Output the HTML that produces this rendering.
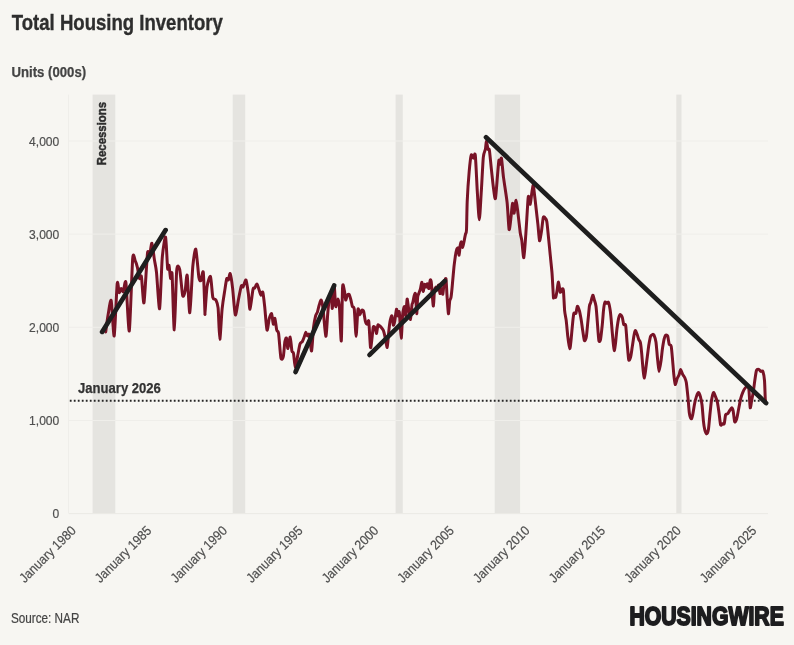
<!DOCTYPE html>
<html lang="en"><head><meta charset="utf-8"><title>Total Housing Inventory</title>
<style>
html,body{margin:0;padding:0;background:#f7f6f2;}
body{width:794px;height:645px;overflow:hidden;font-family:"Liberation Sans", sans-serif;}
svg{display:block;}
text{font-family:"Liberation Sans", sans-serif;}
</style></head><body>
<svg width="794" height="645" viewBox="0 0 794 645">
<rect width="794" height="645" fill="#f7f6f2"/>
<text x="11.8" y="30.4" font-size="21.5" font-weight="700" fill="#2e2e2e" stroke="#2e2e2e" stroke-width="0.35" textLength="211" lengthAdjust="spacingAndGlyphs">Total Housing Inventory</text>
<text x="11.5" y="77.3" font-size="14" font-weight="700" fill="#444" stroke="#444" stroke-width="0.25" textLength="74.6" lengthAdjust="spacingAndGlyphs">Units (000s)</text>
<rect x="92.6" y="94.6" width="22.7" height="419.0" fill="#e5e4e0"/>
<rect x="232.7" y="94.6" width="12.5" height="419.0" fill="#e5e4e0"/>
<rect x="395.6" y="94.6" width="7.2" height="419.0" fill="#e5e4e0"/>
<rect x="494.7" y="94.6" width="25.4" height="419.0" fill="#e5e4e0"/>
<rect x="676.3" y="94.6" width="5.2" height="419.0" fill="#e5e4e0"/>
<line x1="69" x2="768" y1="513.6" y2="513.6" stroke="#eae9e5" stroke-width="1"/>
<line x1="69" x2="768" y1="420.5" y2="420.5" stroke="#efeeea" stroke-width="1"/>
<line x1="69" x2="768" y1="327.3" y2="327.3" stroke="#efeeea" stroke-width="1"/>
<line x1="69" x2="768" y1="234.1" y2="234.1" stroke="#efeeea" stroke-width="1"/>
<line x1="69" x2="768" y1="141.0" y2="141.0" stroke="#efeeea" stroke-width="1"/>
<line x1="68.5" x2="68.5" y1="94.6" y2="513.6" stroke="#efeeea" stroke-width="1"/>
<text x="59.3" y="518.2" font-size="13.4" fill="#4f4f4f" stroke="#4f4f4f" stroke-width="0.2" text-anchor="end" textLength="6.7" lengthAdjust="spacingAndGlyphs">0</text>
<text x="59.3" y="425.1" font-size="13.4" fill="#4f4f4f" stroke="#4f4f4f" stroke-width="0.2" text-anchor="end" textLength="30.2" lengthAdjust="spacingAndGlyphs">1,000</text>
<text x="59.3" y="331.9" font-size="13.4" fill="#4f4f4f" stroke="#4f4f4f" stroke-width="0.2" text-anchor="end" textLength="30.2" lengthAdjust="spacingAndGlyphs">2,000</text>
<text x="59.3" y="238.7" font-size="13.4" fill="#4f4f4f" stroke="#4f4f4f" stroke-width="0.2" text-anchor="end" textLength="30.2" lengthAdjust="spacingAndGlyphs">3,000</text>
<text x="59.3" y="145.6" font-size="13.4" fill="#4f4f4f" stroke="#4f4f4f" stroke-width="0.2" text-anchor="end" textLength="30.2" lengthAdjust="spacingAndGlyphs">4,000</text>
<text transform="translate(76.7,531.5) rotate(-45)" font-size="13.4" fill="#4f4f4f" stroke="#4f4f4f" stroke-width="0.2" text-anchor="end" textLength="73.5" lengthAdjust="spacingAndGlyphs">January 1980</text>
<text transform="translate(152.3,531.5) rotate(-45)" font-size="13.4" fill="#4f4f4f" stroke="#4f4f4f" stroke-width="0.2" text-anchor="end" textLength="73.5" lengthAdjust="spacingAndGlyphs">January 1985</text>
<text transform="translate(227.9,531.5) rotate(-45)" font-size="13.4" fill="#4f4f4f" stroke="#4f4f4f" stroke-width="0.2" text-anchor="end" textLength="73.5" lengthAdjust="spacingAndGlyphs">January 1990</text>
<text transform="translate(303.6,531.5) rotate(-45)" font-size="13.4" fill="#4f4f4f" stroke="#4f4f4f" stroke-width="0.2" text-anchor="end" textLength="73.5" lengthAdjust="spacingAndGlyphs">January 1995</text>
<text transform="translate(379.2,531.5) rotate(-45)" font-size="13.4" fill="#4f4f4f" stroke="#4f4f4f" stroke-width="0.2" text-anchor="end" textLength="73.5" lengthAdjust="spacingAndGlyphs">January 2000</text>
<text transform="translate(454.8,531.5) rotate(-45)" font-size="13.4" fill="#4f4f4f" stroke="#4f4f4f" stroke-width="0.2" text-anchor="end" textLength="73.5" lengthAdjust="spacingAndGlyphs">January 2005</text>
<text transform="translate(530.5,531.5) rotate(-45)" font-size="13.4" fill="#4f4f4f" stroke="#4f4f4f" stroke-width="0.2" text-anchor="end" textLength="73.5" lengthAdjust="spacingAndGlyphs">January 2010</text>
<text transform="translate(606.1,531.5) rotate(-45)" font-size="13.4" fill="#4f4f4f" stroke="#4f4f4f" stroke-width="0.2" text-anchor="end" textLength="73.5" lengthAdjust="spacingAndGlyphs">January 2015</text>
<text transform="translate(681.7,531.5) rotate(-45)" font-size="13.4" fill="#4f4f4f" stroke="#4f4f4f" stroke-width="0.2" text-anchor="end" textLength="73.5" lengthAdjust="spacingAndGlyphs">January 2020</text>
<text transform="translate(757.3,531.5) rotate(-45)" font-size="13.4" fill="#4f4f4f" stroke="#4f4f4f" stroke-width="0.2" text-anchor="end" textLength="73.5" lengthAdjust="spacingAndGlyphs">January 2025</text>
<text transform="translate(105.9,165.2) rotate(-90)" font-size="13" font-weight="700" fill="#2d2d2d" stroke="#2d2d2d" stroke-width="0.45" textLength="63.2" lengthAdjust="spacingAndGlyphs">Recessions</text>
<line x1="69.8" x2="767" y1="400.7" y2="400.7" stroke="#262626" stroke-width="1.9" stroke-dasharray="1.8 2.2"/>
<path d="M105.7,331.9 C106.0,329.8 107.4,318.6 108.1,314.8 C108.8,311.0 110.5,298.1 111.2,300.6 C111.9,303.1 113.5,338.0 114.2,335.9 C114.9,333.8 116.6,288.7 117.2,283.5 C117.8,278.3 118.7,292.0 119.2,292.6 C119.7,293.2 120.7,288.6 121.2,288.5 C121.7,288.4 122.7,292.3 123.3,291.6 C123.9,290.9 125.2,277.8 125.9,282.5 C126.6,287.2 128.5,333.8 129.3,330.9 C130.1,328.0 132.0,266.7 132.7,258.3 C133.4,249.9 134.8,260.2 135.4,261.3 C136.0,262.4 136.9,265.3 137.4,267.4 C137.9,269.5 138.9,277.4 139.4,278.5 C139.9,279.6 140.8,273.6 141.4,276.5 C142.0,279.4 143.3,305.5 144.0,302.7 C144.7,299.9 146.8,258.9 147.5,253.3 C148.2,247.7 149.0,257.5 149.5,256.3 C150.0,255.1 151.3,242.7 151.9,243.2 C152.5,243.7 153.9,256.8 154.5,260.3 C155.1,263.8 155.9,266.6 156.5,272.4 C157.1,278.2 158.9,310.4 159.6,308.7 C160.3,307.0 161.5,266.9 162.2,258.3 C162.9,249.7 165.0,235.9 165.6,237.1 C166.2,238.3 167.2,265.0 167.6,268.4 C168.0,271.8 168.6,264.2 169.0,265.4 C169.4,266.6 170.2,277.4 170.6,278.5 C171.0,279.6 171.7,268.2 172.1,274.4 C172.5,280.6 173.7,330.4 174.3,329.9 C174.9,329.4 176.1,277.7 176.7,270.4 C177.3,263.1 179.0,266.4 179.7,269.4 C180.4,272.4 182.0,293.1 182.7,295.6 C183.4,298.1 184.7,293.0 185.2,290.6 C185.7,288.2 186.6,272.7 187.2,275.4 C187.8,278.1 189.1,313.8 189.8,312.7 C190.5,311.6 192.1,274.0 192.8,266.4 C193.5,258.8 195.1,247.9 195.8,249.2 C196.5,250.5 198.3,273.7 198.9,277.5 C199.5,281.3 200.4,281.1 200.9,280.5 C201.4,279.9 202.8,268.7 203.3,272.4 C203.8,276.1 204.7,307.0 204.9,311.7 C205.1,316.4 204.8,314.4 205.1,311.4 C205.4,308.4 206.4,291.2 207.0,287.0 C207.6,282.8 209.8,275.3 210.5,276.5 C211.2,277.7 212.2,294.6 212.8,297.4 C213.4,300.2 215.2,298.5 215.8,299.8 C216.4,301.1 217.6,303.2 218.1,307.9 C218.6,312.6 219.3,339.2 219.8,339.3 C220.3,339.4 221.5,314.7 222.1,309.1 C222.7,303.5 223.8,296.4 224.4,292.8 C225.0,289.2 226.2,280.3 226.7,278.8 C227.2,277.3 228.0,280.6 228.4,280.0 C228.8,279.4 229.7,272.7 230.2,273.7 C230.7,274.7 232.0,283.2 232.6,288.1 C233.2,293.0 234.6,313.5 235.3,314.9 C236.0,316.3 237.7,303.3 238.4,299.8 C239.1,296.3 240.8,287.3 241.4,285.8 C242.0,284.3 242.4,287.7 243.0,287.0 C243.6,286.3 245.4,279.2 246.0,280.0 C246.6,280.8 247.9,290.5 248.4,294.0 C248.9,297.5 249.4,309.7 250.0,309.1 C250.6,308.5 252.4,291.8 253.0,289.3 C253.6,286.8 254.2,288.7 254.7,288.1 C255.2,287.5 256.4,283.7 257.0,284.0 C257.6,284.3 258.8,289.2 259.3,290.5 C259.8,291.8 260.5,294.9 260.9,295.1 C261.3,295.3 262.3,290.9 262.8,292.3 C263.3,293.7 264.2,302.2 264.7,306.7 C265.2,311.2 266.4,328.6 267.0,330.0 C267.6,331.4 268.7,320.4 269.3,318.4 C269.9,316.4 271.1,313.0 271.6,313.7 C272.1,314.4 272.9,323.6 273.3,324.2 C273.7,324.8 274.5,317.7 274.9,318.4 C275.3,319.1 276.3,328.2 276.7,330.0 C277.1,331.8 278.1,330.2 278.6,333.5 C279.1,336.8 280.3,355.1 280.9,357.9 C281.5,360.7 282.8,358.7 283.3,356.7 C283.8,354.7 284.5,343.8 284.9,341.6 C285.3,339.4 286.1,337.3 286.5,338.1 C286.9,338.9 287.5,348.7 287.9,348.6 C288.3,348.5 289.7,336.7 290.2,337.0 C290.7,337.3 291.5,348.9 291.9,350.9 C292.3,352.9 293.1,351.3 293.5,353.3 C293.9,355.3 294.8,366.9 295.3,367.2 C295.8,367.5 297.1,358.4 297.7,355.6 C298.3,352.8 299.4,345.7 300.0,344.0 C300.6,342.3 301.8,342.4 302.3,341.6 C302.8,340.8 303.8,338.1 304.2,337.0 C304.6,335.9 305.4,332.4 305.8,332.3 C306.2,332.2 307.0,335.5 307.4,335.8 C307.8,336.1 308.8,332.9 309.3,334.7 C309.8,336.5 311.1,351.7 311.6,350.9 C312.1,350.1 313.0,331.9 313.5,327.7 C314.0,323.5 315.1,317.7 315.6,315.8 C316.1,313.9 317.0,313.4 317.4,312.1 C317.8,310.8 318.8,306.2 319.3,304.7 C319.8,303.2 320.8,299.6 321.2,300.0 C321.6,300.4 322.4,304.0 323.0,308.4 C323.6,312.8 325.2,335.6 325.8,336.3 C326.4,337.0 327.3,318.7 327.7,314.0 C328.1,309.3 329.1,299.6 329.5,297.2 C329.9,294.8 331.1,293.1 331.4,294.4 C331.7,295.7 332.0,309.4 332.3,308.4 C332.6,307.4 333.8,286.2 334.2,286.0 C334.6,285.8 335.3,304.9 335.7,306.5 C336.1,308.1 337.5,299.1 337.9,299.1 C338.3,299.1 339.0,301.5 339.4,306.5 C339.8,311.5 340.9,343.2 341.3,340.9 C341.7,338.6 342.2,293.0 342.6,287.0 C343.0,281.0 344.0,289.1 344.4,290.7 C344.8,292.3 345.4,299.4 345.7,300.0 C346.0,300.6 346.8,296.0 347.2,295.3 C347.6,294.6 348.7,293.8 349.1,294.4 C349.5,295.0 350.5,298.5 350.9,300.0 C351.3,301.5 352.0,305.4 352.4,306.5 C352.8,307.6 353.9,305.7 354.3,309.3 C354.7,312.9 355.7,336.3 356.1,336.3 C356.5,336.3 357.5,311.9 358.0,309.3 C358.5,306.7 359.5,314.8 359.9,314.9 C360.3,315.0 361.3,310.6 361.7,310.2 C362.1,309.8 363.2,309.9 363.6,311.2 C364.0,312.5 365.0,319.8 365.4,321.4 C365.8,323.0 366.9,324.2 367.3,324.2 C367.7,324.2 368.4,318.6 368.8,321.4 C369.2,324.2 370.1,345.4 370.5,347.4 C370.9,349.4 371.7,340.5 372.0,338.1 C372.3,335.7 372.9,328.2 373.3,327.0 C373.7,325.8 374.7,327.1 375.1,327.9 C375.5,328.7 376.3,333.8 376.6,333.5 C376.9,333.2 377.5,326.0 377.9,325.1 C378.3,324.2 379.4,325.7 379.8,326.0 C380.2,326.3 381.2,327.3 381.6,327.9 C382.0,328.5 383.1,329.5 383.5,330.7 C383.9,331.9 384.9,336.1 385.3,338.1 C385.7,340.1 386.8,347.8 387.2,347.4 C387.6,347.0 388.2,337.5 388.5,334.4 C388.8,331.3 389.6,323.6 390.0,321.4 C390.4,319.2 391.5,315.4 391.9,315.8 C392.3,316.2 393.0,324.4 393.3,325.1 C393.6,325.8 394.3,323.3 394.7,321.4 C395.1,319.5 396.1,310.0 396.5,309.3 C396.9,308.6 397.5,315.5 397.8,315.8 C398.1,316.1 398.9,309.4 399.3,312.1 C399.7,314.8 400.8,337.9 401.2,338.1 C401.6,338.3 402.3,317.8 402.7,314.0 C403.1,310.2 404.1,306.3 404.5,306.5 C404.9,306.7 405.5,316.7 405.8,315.8 C406.1,314.9 406.8,300.0 407.1,299.1 C407.4,298.2 408.2,306.0 408.6,308.4 C409.0,310.8 410.1,319.9 410.5,319.5 C410.9,319.1 411.7,306.7 412.0,304.7 C412.3,302.7 412.5,303.6 412.8,302.5 C413.1,301.4 413.9,296.6 414.2,295.6 C414.5,294.6 415.3,292.0 415.6,294.2 C415.9,296.4 416.4,313.4 416.7,313.7 C417.0,314.0 417.4,299.4 417.7,296.9 C418.0,294.4 418.8,293.8 419.1,292.8 C419.4,291.8 420.2,289.9 420.5,288.6 C420.8,287.3 421.6,282.0 421.9,282.3 C422.2,282.6 422.9,291.1 423.2,291.4 C423.5,291.7 424.3,284.9 424.6,284.4 C424.9,283.9 425.7,287.3 426.0,287.2 C426.3,287.1 427.1,283.5 427.4,283.7 C427.7,283.9 428.5,289.0 428.8,288.6 C429.1,288.2 429.9,281.0 430.2,280.2 C430.5,279.4 430.9,279.8 431.2,281.6 C431.5,283.4 432.0,292.7 432.3,295.6 C432.6,298.5 433.1,306.5 433.4,306.0 C433.7,305.5 434.1,293.7 434.4,291.4 C434.7,289.1 435.5,287.4 435.8,287.2 C436.1,287.0 436.9,290.3 437.2,290.0 C437.5,289.7 438.3,284.7 438.6,285.1 C438.9,285.5 439.7,293.1 440.0,293.5 C440.3,293.9 441.1,288.5 441.4,288.6 C441.7,288.7 442.5,294.9 442.8,294.2 C443.1,293.5 443.8,284.8 444.2,283.0 C444.6,281.2 445.7,277.3 446.0,278.8 C446.3,280.3 446.7,291.4 447.0,295.6 C447.3,299.8 448.1,313.0 448.4,313.7 C448.7,314.4 449.4,303.1 449.7,301.1 C450.0,299.1 450.8,299.1 451.1,296.9 C451.4,294.7 452.2,286.5 452.5,283.0 C452.8,279.5 453.6,270.9 453.9,267.7 C454.2,264.5 455.0,258.7 455.3,256.5 C455.6,254.3 456.4,250.5 456.7,249.5 C457.0,248.5 457.8,247.4 458.1,248.1 C458.4,248.8 458.8,255.4 459.1,255.1 C459.4,254.8 459.9,246.9 460.2,245.3 C460.5,243.7 461.0,241.6 461.3,241.9 C461.6,242.2 462.4,247.5 462.7,247.4 C463.0,247.3 463.8,242.8 464.1,241.2 C464.4,239.6 465.2,235.5 465.5,234.2 C465.8,232.9 466.3,233.9 466.5,230.0 C466.7,226.1 466.9,208.6 467.2,201.6 C467.5,194.6 468.7,177.0 469.2,171.4 C469.7,165.8 470.7,156.8 471.2,155.2 C471.7,153.6 472.8,158.3 473.3,158.3 C473.8,158.3 474.8,151.2 475.3,155.2 C475.8,159.2 476.8,183.7 477.3,191.5 C477.8,199.3 478.8,219.8 479.3,219.8 C479.8,219.8 480.8,199.0 481.3,191.5 C481.8,184.0 482.8,162.4 483.3,157.3 C483.8,152.2 485.0,151.1 485.4,149.2 C485.8,147.3 486.1,141.1 486.4,141.1 C486.7,141.1 487.6,148.1 488.0,149.2 C488.4,150.3 489.0,147.8 489.4,150.2 C489.8,152.6 490.9,164.9 491.4,169.4 C491.9,173.9 492.9,184.0 493.4,187.5 C493.9,191.0 494.9,200.1 495.4,198.6 C495.9,197.1 497.1,180.0 497.5,175.4 C497.9,170.8 498.6,161.6 498.9,160.3 C499.2,159.0 499.8,164.5 500.1,164.3 C500.4,164.1 501.1,156.7 501.5,158.3 C501.9,159.9 502.8,172.1 503.5,177.4 C504.2,182.7 506.4,196.0 507.1,202.3 C507.8,208.6 508.6,227.8 509.1,229.5 C509.6,231.2 510.7,219.5 511.1,216.4 C511.5,213.3 512.1,203.7 512.5,203.3 C512.9,202.9 513.7,213.7 514.1,213.3 C514.5,212.9 515.6,200.1 516.1,200.2 C516.6,200.3 517.6,210.5 518.1,214.4 C518.6,218.3 519.8,229.4 520.2,232.5 C520.6,235.6 521.4,237.6 521.8,240.6 C522.2,243.6 523.3,258.4 523.8,257.7 C524.3,257.0 525.3,241.1 525.8,234.5 C526.3,227.9 527.5,206.9 527.8,202.3 C528.1,197.7 528.3,196.0 528.6,196.2 C528.9,196.4 529.8,204.8 530.2,204.3 C530.6,203.8 531.5,194.5 531.9,192.2 C532.3,189.9 533.0,184.6 533.3,185.1 C533.6,185.6 534.3,193.2 534.7,196.2 C535.1,199.2 535.9,206.9 536.3,210.3 C536.7,213.7 537.5,220.8 537.9,224.4 C538.3,228.0 539.1,239.6 539.5,240.6 C539.9,241.6 540.8,235.3 541.3,232.5 C541.8,229.7 542.8,219.1 543.3,217.4 C543.8,215.7 545.0,217.9 545.4,218.4 C545.8,218.9 546.4,219.2 546.8,221.4 C547.2,223.6 548.0,232.3 548.4,236.5 C548.8,240.7 550.0,252.3 550.4,256.7 C550.8,261.1 551.6,268.0 552.0,272.8 C552.4,277.6 553.2,294.2 553.4,297.0 C553.6,299.8 553.4,296.2 553.7,296.2 C554.0,296.2 555.3,297.9 555.7,297.2 C556.1,296.5 556.8,292.0 557.1,290.2 C557.4,288.4 558.1,281.9 558.5,282.1 C558.9,282.3 559.8,291.3 560.2,292.2 C560.6,293.1 561.4,289.4 561.8,289.2 C562.2,289.0 563.1,287.7 563.4,290.2 C563.7,292.7 564.3,306.7 564.6,310.3 C564.9,313.9 565.8,317.3 566.2,320.4 C566.6,323.5 567.4,333.1 567.8,336.5 C568.2,339.9 569.4,348.4 569.8,348.6 C570.2,348.8 570.9,341.6 571.2,338.5 C571.5,335.4 572.4,325.4 572.7,322.4 C573.0,319.4 573.5,314.4 573.9,313.3 C574.3,312.2 575.5,314.1 575.9,313.3 C576.3,312.5 576.9,306.7 577.3,306.3 C577.7,305.9 578.8,308.6 579.3,310.3 C579.8,312.0 580.9,318.0 581.3,320.4 C581.7,322.8 582.3,328.1 582.7,330.5 C583.1,332.9 584.0,339.9 584.4,340.6 C584.8,341.3 586.0,338.9 586.4,336.5 C586.8,334.1 587.6,324.0 588.0,320.4 C588.4,316.8 589.1,308.5 589.4,306.3 C589.7,304.1 590.4,303.6 590.8,302.3 C591.2,301.0 592.4,295.5 592.8,295.2 C593.2,294.9 594.0,298.9 594.4,300.2 C594.8,301.5 595.6,303.4 596.0,306.3 C596.4,309.2 597.2,320.3 597.5,324.4 C597.8,328.5 598.5,338.8 598.9,340.6 C599.3,342.4 600.1,341.3 600.5,339.6 C600.9,337.9 601.7,330.0 602.1,326.5 C602.5,323.0 603.2,313.2 603.5,310.3 C603.8,307.4 604.5,303.1 604.9,302.3 C605.3,301.5 606.5,303.3 606.9,303.3 C607.3,303.3 608.1,301.5 608.5,302.3 C608.9,303.1 609.8,307.6 610.2,310.3 C610.6,313.0 611.3,320.8 611.6,324.4 C611.9,328.0 612.7,337.5 613.0,340.6 C613.3,343.7 613.9,350.4 614.2,350.6 C614.5,350.8 615.3,345.3 615.6,342.6 C615.9,339.9 616.6,331.4 617.0,328.5 C617.4,325.6 618.2,320.1 618.6,318.4 C619.0,316.7 619.8,314.5 620.2,314.4 C620.6,314.3 621.9,316.2 622.3,317.4 C622.7,318.6 623.3,323.4 623.7,324.4 C624.1,325.4 625.3,323.2 625.7,325.4 C626.1,327.6 626.7,338.5 627.1,342.6 C627.5,346.7 628.3,358.0 628.7,359.7 C629.1,361.4 630.3,358.3 630.7,356.7 C631.1,355.1 631.9,349.0 632.3,346.6 C632.7,344.2 633.5,338.4 633.8,336.5 C634.1,334.6 634.8,330.7 635.2,330.5 C635.6,330.3 636.8,333.4 637.2,334.5 C637.6,335.6 638.4,338.6 638.8,339.6 C639.2,340.6 640.0,340.8 640.4,342.6 C640.8,344.4 641.5,351.3 641.8,354.7 C642.1,358.1 642.9,368.0 643.2,370.8 C643.5,373.6 644.1,378.1 644.4,377.9 C644.7,377.7 645.5,371.3 645.8,368.8 C646.1,366.3 646.9,359.6 647.3,356.7 C647.7,353.8 648.5,347.0 648.9,344.6 C649.3,342.2 650.1,337.7 650.5,336.5 C650.9,335.3 652.1,334.7 652.5,334.5 C652.9,334.3 653.6,334.2 654.0,335.1 C654.4,336.0 655.6,339.2 656.0,342.2 C656.4,345.2 657.3,356.8 657.7,360.3 C658.1,363.8 658.7,371.4 659.1,371.4 C659.5,371.4 660.7,363.1 661.1,360.3 C661.5,357.5 662.1,350.7 662.5,348.2 C662.9,345.7 663.7,340.8 664.1,339.2 C664.5,337.6 665.3,335.5 665.7,335.1 C666.1,334.7 667.3,335.0 667.7,336.1 C668.1,337.2 668.8,343.0 669.2,344.2 C669.6,345.4 670.8,344.3 671.2,346.2 C671.6,348.1 672.3,356.9 672.6,360.3 C672.9,363.7 673.5,371.5 673.8,374.4 C674.1,377.3 674.8,384.0 675.2,384.5 C675.6,385.0 676.7,379.7 677.2,378.5 C677.7,377.3 678.8,375.5 679.2,374.4 C679.6,373.3 680.2,369.4 680.6,369.4 C681.0,369.4 682.2,373.4 682.7,374.4 C683.2,375.4 684.3,376.5 684.7,377.5 C685.1,378.5 685.9,380.2 686.3,382.5 C686.7,384.8 687.5,393.0 687.9,396.6 C688.3,400.2 688.9,410.0 689.3,412.7 C689.7,415.4 690.9,418.5 691.3,418.8 C691.7,419.1 692.3,416.5 692.7,414.8 C693.1,413.1 694.0,406.9 694.4,404.7 C694.8,402.5 695.9,398.1 696.4,396.6 C696.9,395.1 697.9,392.6 698.4,392.6 C698.9,392.6 700.0,395.1 700.4,396.6 C700.8,398.1 701.6,401.8 702.0,404.7 C702.4,407.6 703.1,417.8 703.4,420.8 C703.7,423.8 704.4,428.3 704.8,429.9 C705.2,431.5 706.1,434.0 706.5,433.9 C706.9,433.8 708.1,431.4 708.5,428.9 C708.9,426.4 709.7,416.1 710.1,412.7 C710.5,409.3 711.1,403.0 711.5,400.6 C711.9,398.2 713.0,393.1 713.5,392.6 C714.0,392.1 715.0,395.4 715.5,396.6 C716.0,397.8 717.1,400.8 717.5,402.7 C717.9,404.6 718.6,410.0 719.0,412.7 C719.4,415.4 720.2,423.5 720.6,424.8 C721.0,426.1 722.2,423.9 722.6,423.8 C723.0,423.7 723.8,424.9 724.2,423.8 C724.6,422.7 725.2,416.0 725.6,414.8 C726.0,413.6 727.1,414.3 727.6,413.8 C728.1,413.3 729.1,411.4 729.6,410.7 C730.1,410.0 731.3,407.7 731.7,407.7 C732.1,407.7 732.7,409.0 733.1,410.7 C733.5,412.4 734.3,420.8 734.7,421.8 C735.1,422.8 736.2,420.4 736.7,418.8 C737.2,417.2 738.2,411.1 738.7,408.7 C739.2,406.3 740.2,400.5 740.7,398.6 C741.2,396.7 742.2,393.8 742.7,392.6 C743.2,391.4 744.3,389.2 744.8,388.5 C745.3,387.8 746.3,386.5 746.8,386.5 C747.3,386.5 748.4,386.0 748.8,388.5 C749.2,391.0 749.8,406.4 750.2,407.7 C750.6,409.0 751.4,401.4 751.8,399.6 C752.2,397.8 752.8,394.9 753.2,392.6 C753.6,390.3 754.4,383.2 754.8,380.5 C755.2,377.8 756.0,371.7 756.5,370.4 C757.0,369.1 758.4,369.3 758.9,369.4 C759.4,369.5 760.4,371.2 760.9,371.4 C761.4,371.6 762.5,370.3 762.9,371.4 C763.3,372.5 764.2,377.0 764.5,380.5 C764.8,384.0 765.2,398.2 765.3,400.6" fill="none" stroke="#781326" stroke-width="3" stroke-linejoin="round" stroke-linecap="round"/>
<line x1="102.1" y1="331.9" x2="165.6" y2="230.1" stroke="#1e1e1e" stroke-width="4.7" stroke-linecap="round"/>
<line x1="295.5" y1="372" x2="334.2" y2="285.5" stroke="#1e1e1e" stroke-width="4.7" stroke-linecap="round"/>
<line x1="369.5" y1="354.9" x2="444.9" y2="280.9" stroke="#1e1e1e" stroke-width="4.7" stroke-linecap="round"/>
<line x1="486.0" y1="137.3" x2="766.1" y2="403.1" stroke="#1e1e1e" stroke-width="4.7" stroke-linecap="round"/>
<text x="78" y="392.6" font-size="14" font-weight="700" fill="#333" stroke="#333" stroke-width="0.25" textLength="82.9" lengthAdjust="spacingAndGlyphs">January 2026</text>
<text x="10.9" y="623.2" font-size="14" fill="#444" stroke="#444" stroke-width="0.2" textLength="68.5" lengthAdjust="spacingAndGlyphs">Source: NAR</text>
<text x="629.4" y="625.0" font-size="25.8" font-weight="700" fill="#1d1d1f" stroke="#1d1d1f" stroke-width="1.9" stroke-linejoin="round" textLength="154.4" lengthAdjust="spacingAndGlyphs">HOUSINGWIRE</text>
</svg>
</body></html>
